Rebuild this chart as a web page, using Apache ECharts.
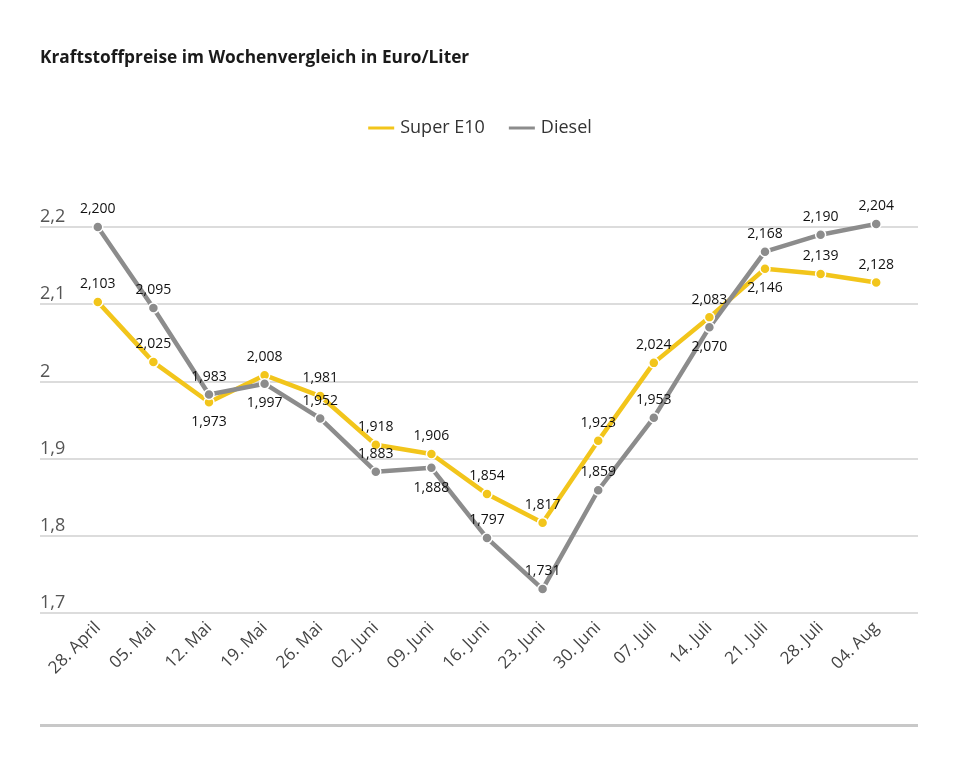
<!DOCTYPE html>
<html>
<head>
<meta charset="utf-8">
<style>
  html, body { margin: 0; padding: 0; background: #fff; }
  #chart { width: 958px; height: 768px; }
</style>
<script src="https://cdn.jsdelivr.net/npm/echarts@6/dist/echarts.min.js"></script>
</head>
<body>
<div id="chart"></div>
<script>
// Wochen
var weeks = ["28. April", "05. Mai", "12. Mai", "19. Mai", "26. Mai", "02. Juni", "09. Juni",
  "16. Juni", "23. Juni", "30. Juni", "07. Juli", "14. Juli", "21. Juli", "28. Juli", "04. Aug"];

// Preise in Euro/Liter
var superE10 = [2.103, 2.025, 1.973, 2.008, 1.981, 1.918, 1.906, 1.854, 1.817, 1.923, 2.024, 2.083, 2.146, 2.139, 2.128];
var diesel = [2.200, 2.095, 1.983, 1.997, 1.952, 1.883, 1.888, 1.797, 1.731, 1.859, 1.953, 2.070, 2.168, 2.190, 2.204];

// Punkte, deren Beschriftung unter dem Punkt steht
var e10LabelBelow = [2, 12];
var dieselLabelBelow = [3, 6, 11];

var yTicks = [1.7, 1.8, 1.9, 2.0, 2.1, 2.2];

var YELLOW = "#f2c51b";
var GREY = "#8c8c8c";
var FONT = "Open Sans";

function fmt(v) {
    return v.toFixed(3).replace(".", ",");
}

function points(values, below) {
    return values.map(function (v, i) {
        var p = { value: v };
        if (below.indexOf(i) >= 0) p.label = { position: "bottom", distance: 7 };
        return p;
    });
}

function lineSeries(name, color, values, below) {
    return {
        name: name,
        type: "line",
        xAxisIndex: 1,
        yAxisIndex: 1,
        clip: false,
        data: points(values, below),
        symbol: "circle",
        symbolSize: 10,
        lineStyle: { color: color, width: 4.5 },
        itemStyle: { color: color, borderColor: "#fff", borderWidth: 1.5 },
        label: {
            show: true,
            position: "top",
            distance: 5,
            color: "#111",
            fontFamily: FONT,
            fontSize: 14,
            formatter: function (p) { return fmt(p.value); }
        },
        emphasis: { disabled: true }
    };
}

var chart = echarts.init(document.getElementById("chart"));
chart.setOption({
    animation: false,
    backgroundColor: "#fff",
    title: {
        text: "Kraftstoffpreise im Wochenvergleich in Euro/Liter",
        left: 35,
        top: 45,
        textStyle: { fontFamily: FONT, fontWeight: "bold", fontSize: 17.3, color: "#1a1a1a" }
    },
    legend: {
        top: 114,
        left: "center",
        itemWidth: 28,
        itemHeight: 5,
        itemGap: 22,
        icon: "rect",
        textStyle: { fontFamily: FONT, fontSize: 18, color: "#333" },
        data: ["Super E10", "Diesel"]
    },
    grid: [
        // Hintergrundraster über die volle Breite
        { left: 40, right: 40, top: 227, bottom: 155 },
        // Datenbereich
        { left: 70, right: 54, top: 227, bottom: 155 }
    ],
    xAxis: [
        { type: "category", gridIndex: 0, data: weeks, show: false },
        {
            type: "category",
            gridIndex: 1,
            data: weeks,
            boundaryGap: true,
            axisLine: { show: false },
            axisTick: { show: false },
            axisLabel: {
                rotate: 45,
                margin: 12,
                color: "#444",
                fontFamily: FONT,
                fontSize: 17
            }
        }
    ],
    yAxis: [
        {
            type: "value",
            gridIndex: 0,
            min: 1.7,
            max: 2.2,
            interval: 0.1,
            axisLine: { show: false },
            axisTick: { show: false },
            splitLine: { lineStyle: { color: "#d0d0d0", width: 1.5 } },
            axisLabel: {
                inside: true,
                margin: 0,
                verticalAlign: "bottom",
                padding: [0, 0, 1, 0],
                color: "#555",
                fontFamily: FONT,
                fontSize: 18,
                formatter: function (v) {
                    var t = yTicks.filter(function (y) { return Math.abs(y - v) < 1e-6; })[0];
                    return String(Math.round(t * 10) / 10).replace(".", ",");
                }
            }
        },
        {
            type: "value",
            gridIndex: 1,
            min: 1.7,
            max: 2.2,
            interval: 0.1,
            show: false
        }
    ],
    series: [
        lineSeries("Super E10", YELLOW, superE10, e10LabelBelow),
        lineSeries("Diesel", GREY, diesel, dieselLabelBelow)
    ],
    graphic: [
        {
            type: "rect",
            shape: { x: 40, y: 724, width: 878, height: 3 },
            style: { fill: "#c8c8c8" }
        }
    ]
});
</script>
</body>
</html>
